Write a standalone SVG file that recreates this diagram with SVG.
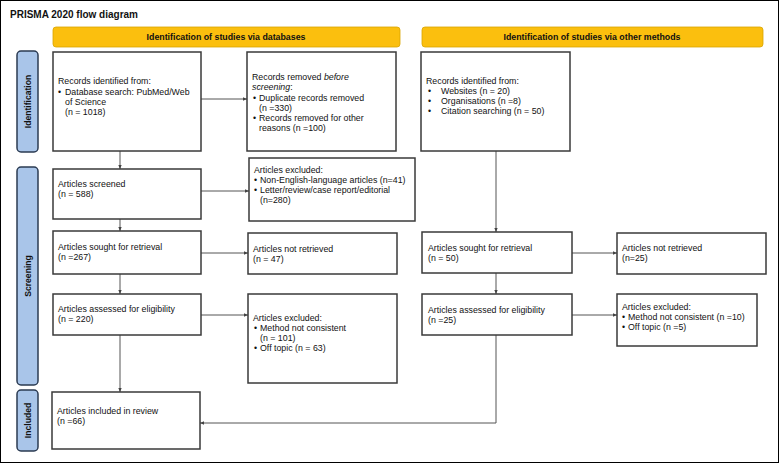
<svg xmlns="http://www.w3.org/2000/svg" width="780" height="464" viewBox="0 0 780 464">
<defs>
<style>
text{font-family:"Liberation Sans",Arial,sans-serif;font-size:8.8px;fill:#111}
.t{font-size:10px;font-weight:bold}
.hd{font-size:8.8px;font-weight:bold;text-anchor:middle}
.side{font-size:8.6px;font-weight:bold;text-anchor:middle}
.box{fill:#fff;stroke:#3a3a3a;stroke-width:1.5}
.bar{fill:#FBBF0E;stroke:#D9A400;stroke-width:0.8}
.sb{fill:#A9C5E9;stroke:#2B3B52;stroke-width:1.5}
.c{fill:none;stroke:#555;stroke-width:1}
</style>
<marker id="ah" markerWidth="5" markerHeight="5" refX="4" refY="2.5" orient="auto" markerUnits="userSpaceOnUse">
<path d="M0,0.8 L4,2.5 L0,4.2 Z" fill="#444"/>
</marker>
</defs>
<rect x="0.5" y="0.5" width="778" height="462" fill="#fff" stroke="#000" stroke-width="1"/>
<text class="t" x="10" y="18">PRISMA 2020 flow diagram</text>

<g id="hdr-db"><rect class="bar" x="53" y="27" width="347" height="20" rx="3"/><text class="hd" x="226" y="40">Identification of studies via databases</text></g>
<g id="hdr-other"><rect class="bar" x="422" y="27" width="341" height="20" rx="3"/><text class="hd" x="592" y="40">Identification of studies via other methods</text></g>

<g id="side-ident"><rect class="sb" x="17" y="51" width="21" height="101" rx="4"/><text class="side" transform="translate(30.5,101.5) rotate(-90)">Identification</text></g>
<g id="side-screen"><rect class="sb" x="17" y="167" width="21" height="218" rx="4"/><text class="side" transform="translate(30.5,276) rotate(-90)">Screening</text></g>
<g id="side-incl"><rect class="sb" x="17" y="390" width="21" height="61" rx="4"/><text class="side" transform="translate(30.5,420.5) rotate(-90)">Included</text></g>

<g id="connectors">
<line class="c" x1="201" y1="99" x2="247" y2="99" marker-end="url(#ah)"/>
<line class="c" x1="120" y1="151" x2="120" y2="169" marker-end="url(#ah)"/>
<line class="c" x1="201" y1="191" x2="249" y2="191" marker-end="url(#ah)"/>
<line class="c" x1="120" y1="219" x2="120" y2="231" marker-end="url(#ah)"/>
<line class="c" x1="201" y1="253" x2="248" y2="253" marker-end="url(#ah)"/>
<line class="c" x1="120" y1="274" x2="120" y2="294" marker-end="url(#ah)"/>
<line class="c" x1="201" y1="315" x2="248" y2="315" marker-end="url(#ah)"/>
<line class="c" x1="120" y1="335" x2="120" y2="392" marker-end="url(#ah)"/>
<line class="c" x1="496" y1="151" x2="496" y2="232" marker-end="url(#ah)"/>
<line class="c" x1="572" y1="253" x2="617" y2="253" marker-end="url(#ah)"/>
<line class="c" x1="496" y1="273" x2="496" y2="294" marker-end="url(#ah)"/>
<line class="c" x1="572" y1="315" x2="617" y2="315" marker-end="url(#ah)"/>
<polyline class="c" points="496,335 496,423 200,423" marker-end="url(#ah)"/>
</g>

<g id="n-db-records"><rect class="box" x="53" y="52" width="148" height="99"/>
<text x="58" y="84">Records identified from:</text>
<text x="58" y="95">•</text><text x="65" y="95">Database search: PubMed/Web</text>
<text x="65" y="105">of Science</text>
<text x="65" y="115">(n = 1018)</text></g>

<g id="n-removed"><rect class="box" x="247" y="52" width="149" height="99"/>
<text x="252" y="80">Records removed <tspan font-style="italic">before</tspan></text>
<text x="252" y="90"><tspan font-style="italic">screening</tspan>:</text>
<text x="253" y="101">•</text><text x="259" y="101">Duplicate records removed</text>
<text x="259" y="111">(n =330)</text>
<text x="253" y="121">•</text><text x="259" y="121">Records removed for other</text>
<text x="259" y="131">reasons (n =100)</text></g>

<g id="n-other-records"><rect class="box" x="421" y="52" width="149" height="99"/>
<text x="426" y="84">Records identified from:</text>
<text x="428" y="94">•</text><text x="441" y="94">Websites (n = 20)</text>
<text x="428" y="104">•</text><text x="441" y="104">Organisations (n =8)</text>
<text x="428" y="114">•</text><text x="441" y="114">Citation searching (n = 50)</text></g>

<g id="n-screened"><rect class="box" x="53" y="169" width="148" height="50"/>
<text x="58" y="187">Articles screened</text>
<text x="58" y="197">(n = 588)</text></g>

<g id="n-excl1"><rect class="box" x="249" y="158" width="166" height="63"/>
<text x="254" y="173">Articles excluded:</text>
<text x="254" y="183">•</text><text x="260" y="183">Non-English-language articles (n=41)</text>
<text x="254" y="193">•</text><text x="260" y="193">Letter/review/case report/editorial</text>
<text x="260" y="203">(n=280)</text></g>

<g id="n-sought"><rect class="box" x="53" y="231" width="148" height="43"/>
<text x="58" y="250">Articles sought for retrieval</text>
<text x="58" y="260">(n =267)</text></g>

<g id="n-notret"><rect class="box" x="248" y="233" width="149" height="41"/>
<text x="253" y="252">Articles not retrieved</text>
<text x="253" y="262">(n = 47)</text></g>

<g id="n-assessed"><rect class="box" x="53" y="294" width="148" height="41"/>
<text x="58" y="312">Articles assessed for eligibility</text>
<text x="58" y="322">(n = 220)</text></g>

<g id="n-excl2"><rect class="box" x="248" y="294" width="149" height="89"/>
<text x="253" y="321">Articles excluded:</text>
<text x="254" y="331">•</text><text x="260" y="331">Method not consistent</text>
<text x="260" y="341">(n = 101)</text>
<text x="254" y="351">•</text><text x="260" y="351">Off topic (n = 63)</text></g>

<g id="n-included"><rect class="box" x="52" y="392" width="148" height="57"/>
<text x="57" y="414">Articles included in review</text>
<text x="57" y="424">(n =66)</text></g>

<g id="n-sought-o"><rect class="box" x="422" y="232" width="150" height="41"/>
<text x="428" y="251">Articles sought for retrieval</text>
<text x="428" y="261">(n = 50)</text></g>

<g id="n-notret-o"><rect class="box" x="617" y="233" width="149" height="41"/>
<text x="622" y="251">Articles not retrieved</text>
<text x="622" y="261">(n=25)</text></g>

<g id="n-assessed-o"><rect class="box" x="422" y="294" width="150" height="41"/>
<text x="428" y="313">Articles assessed for eligibility</text>
<text x="428" y="323">(n =25)</text></g>

<g id="n-excl-o"><rect class="box" x="617" y="294" width="140" height="52"/>
<text x="622" y="310">Articles excluded:</text>
<text x="622" y="320">•</text><text x="628" y="320">Method not consistent (n =10)</text>
<text x="622" y="330">•</text><text x="628" y="330">Off topic (n =5)</text></g>
</svg>
